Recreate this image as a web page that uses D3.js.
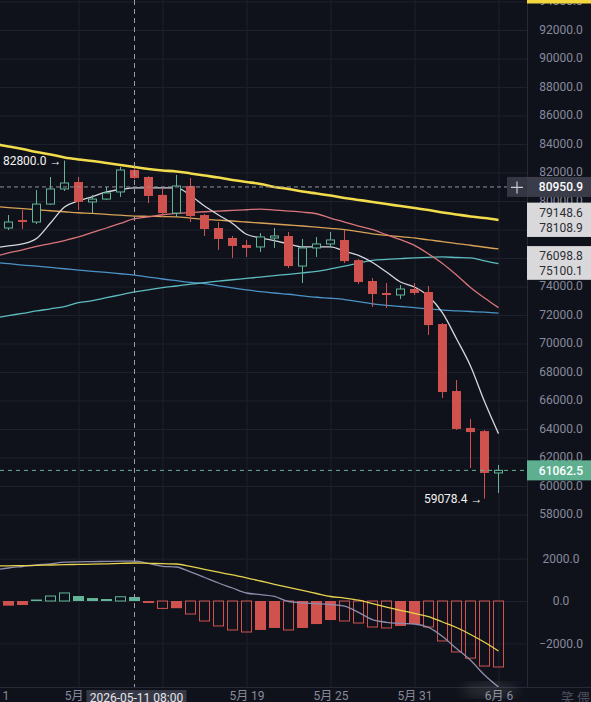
<!DOCTYPE html>
<html>
<head>
<meta charset="utf-8">
<script src="https://cdn.jsdelivr.net/npm/d3@7/dist/d3.min.js"></script>
<style>
  html, body { margin: 0; padding: 0; background: #10121b; overflow: hidden; }
  svg { display: block; font-family: Roboto, "Noto Sans", sans-serif; }
</style>
</head>
<body>
<div id="chart"></div>
<script>
// daily candles, 05-01 .. 06-06 (05-01 sits just off the left edge)
var dates = ["2026-05-01","2026-05-02","2026-05-03","2026-05-04","2026-05-05","2026-05-06","2026-05-07","2026-05-08","2026-05-09","2026-05-10",
  "2026-05-11","2026-05-12","2026-05-13","2026-05-14","2026-05-15","2026-05-16","2026-05-17","2026-05-18","2026-05-19","2026-05-20",
  "2026-05-21","2026-05-22","2026-05-23","2026-05-24","2026-05-25","2026-05-26","2026-05-27","2026-05-28","2026-05-29","2026-05-30",
  "2026-05-31","2026-06-01","2026-06-02","2026-06-03","2026-06-04","2026-06-05","2026-06-06"];

var open  = [78300,78070,78630,78490,79750,80810,81300,79900,80100,80600,82140,81650,80390,79120,81020,78980,78070,77370,76880,76740,
  77370,77510,75400,76670,76950,77230,75820,74350,73510,73370,73790,73580,71330,66630,64040,63820,60880];
var high  = [78800,78980,79330,80740,81650,82800,81650,80390,80950,82350,82280,81700,80880,81790,81580,79050,78490,77510,77230,77720,
  78070,77790,77300,77440,77790,77930,75890,74560,74210,74070,74210,74000,71400,67400,64670,63900,61440];
var low   = [77700,77930,78000,78350,79700,80670,79330,79120,80030,80250,81520,79820,78840,78840,78490,77510,76530,75970,76040,76390,
  76670,75260,74210,76040,76740,75610,74140,72530,72460,73090,73370,70560,66140,63900,61230,59078.4,59470];
var close = [78070,78490,78490,79750,80810,81230,79900,80100,80530,82140,81580,80320,79120,81020,78910,78000,77300,76810,76670,77440,
  77510,75400,76670,76950,77230,75750,74280,73440,73370,73790,73510,71260,66560,63970,63750,60880,61062.5];

// moving averages
var maYellow = [83970,83790,83610,83400,83230,83020,82880,82770,82630,82490,82350,82210,82110,82040,81900,81750,81610,81440,81300,81160,
  80950,80810,80630,80490,80350,80180,80040,79900,79750,79610,79470,79330,79160,79020,78880,78770,78630];
var maOrange = [79580,79500,79430,79350,79280,79210,79140,79090,79020,78970,78910,78890,78870,78850,78770,78680,78620,78560,78490,78420,
  78350,78280,78210,78130,78050,77960,77810,77660,77550,77470,77370,77230,77120,76980,76860,76720,76600];
var maPink   = [76070,76320,76530,76780,76980,77190,77440,77760,78070,78400,78720,78860,79000,79090,79150,79210,79260,79300,79350,79400,
  79330,79260,79180,79070,78770,78490,78210,77950,77600,77250,76850,76250,75580,74770,73900,73160,72480];
var maWhite  = [76670,76810,76950,77330,78420,79540,79970,80280,80600,80770,80880,80880,80880,80880,80350,79610,78980,78390,77630,77370,
  77180,76950,76740,76740,76740,76440,76150,75650,74980,74280,73930,73280,72110,70300,68390,65890,63640];
var maTeal   = [71750,71920,72080,72250,72400,72560,72830,72970,73180,73380,73590,73730,73880,74000,74130,74240,74340,74440,74530,74630,
  74730,74820,74920,75030,75200,75390,75610,75800,75870,75920,75970,76010,76040,76000,75970,75760,75570];
var maBlue   = [75650,75570,75470,75390,75300,75210,75120,75030,74950,74860,74770,74630,74490,74370,74250,74170,74010,73870,73730,73610,
  73510,73420,73310,73210,73140,73050,72900,72750,72640,72560,72480,72390,72310,72260,72210,72160,72100];

// MACD
var macdHist = [-250,-220,-190,70,235,380,235,140,95,200,190,-95,-350,-340,-615,-945,-1180,-1370,-1465,-1370,
  -1275,-1370,-1275,-1090,-900,-945,-1040,-1230,-1275,-1180,-1090,-1230,-1890,-2410,-2700,-3075,-3120];
var macdDif  = [1466,1561,1632,1703,1760,1835,1854,1864,1873,1883,1883,1774,1641,1608,1372,1112,851,615,378,303,
  218,-24,-85,-123,-166,-237,-534,-880,-1007,-1060,-1088,-1249,-1679,-2247,-2805,-3500,-4068];
var macdDea  = [1651,1665,1674,1689,1703,1717,1731,1741,1760,1778,1797,1783,1764,1750,1632,1495,1362,1230,1097,946,
  790,639,497,355,213,137,38,-123,-284,-440,-586,-738,-993,-1253,-1584,-1953,-2365];

// axes
var priceTicks = [58000,60000,62000,64000,66000,68000,70000,72000,74000,76000,78000,80000,82000,84000,86000,88000,90000,92000,94000];
var macdTicks = [2000, 0, -2000];
var dateTicks = ["2026-05-01","2026-05-07","2026-05-13","2026-05-19","2026-05-25","2026-05-31","2026-06-06"];
var dateTickLabels = ["5月 1","5月 7","5月 13","5月 19","5月 25","5月 31","6月 6"];

// tags
var crossDate = "2026-05-11", crossDateLabel = "2026-05-11 08:00";
var crossPrice = 80950.9;
var lastPrice = 61062.5;
var levelTags = [[79148.6, 78108.9], [76098.8, 75100.1]];
var highNote = {date: "2026-05-06", value: 82800.0};
var lowNote = {date: "2026-06-05", value: 59078.4};
var watermark = "笑 偎";

var W = 591, H = 702, plotR = 527, plotB = 687, priceB = 545;
var BG = "#10121b", GRID = "#1d202d", TXT = "#878a9c";
var UP = "#62b596", DOWN = "#d0524f";

var parse = d3.utcParse("%Y-%m-%d");
var days = dates.map(parse);

var x = d3.scaleUtc()
  .domain([parse("2026-05-01"), parse("2026-06-06")])
  .range([-5.5, 498.5]);
var y = d3.scaleLinear().domain([58000, 94000]).range([514, 1]);
var ym = d3.scaleLinear().domain([-2000, 2000]).range([643.3, 558.7]);

var svg = d3.select("#chart").append("svg")
  .attr("width", W).attr("height", H);

svg.append("rect").attr("width", W).attr("height", H).attr("fill", BG);

var defs = svg.append("defs");
defs.append("clipPath").attr("id", "clipP").append("rect")
  .attr("x", 0).attr("y", 0).attr("width", plotR).attr("height", priceB);
defs.append("clipPath").attr("id", "clipM").append("rect")
  .attr("x", 0).attr("y", priceB).attr("width", plotR).attr("height", plotB - priceB);
defs.append("filter").attr("id", "blur").append("feGaussianBlur").attr("stdDeviation", 6);

// grid
var gy = svg.append("g").attr("transform", "translate(0,0)")
  .call(d3.axisRight(y).tickValues(priceTicks).tickSize(plotR).tickFormat(""));
gy.select(".domain").remove();
gy.selectAll("line").attr("stroke", GRID).attr("transform", "translate(0,0.5)");

var gm = svg.append("g")
  .call(d3.axisRight(ym).tickValues(macdTicks).tickSize(plotR).tickFormat(""));
gm.select(".domain").remove();
gm.selectAll("line").attr("stroke", GRID);

var gx = svg.append("g")
  .call(d3.axisBottom(x).tickValues(dateTicks.map(parse)).tickSize(plotB).tickFormat(""));
gx.select(".domain").remove();
gx.selectAll("line").attr("stroke", GRID);

svg.append("line").attr("x1", 0).attr("x2", W).attr("y1", plotB + 0.5).attr("y2", plotB + 0.5).attr("stroke", "#262938");
svg.append("line").attr("x1", plotR + 0.5).attr("x2", plotR + 0.5).attr("y1", 0).attr("y2", plotB).attr("stroke", "#262938");

// price panel
var pp = svg.append("g").attr("clip-path", "url(#clipP)");

function maLine(vals, color, w) {
  var line = d3.line()
    .x(function(d, i) { return x(days[i]); })
    .y(function(d) { return y(d); })
    .curve(d3.curveMonotoneX);
  pp.append("path").datum(vals)
    .attr("d", line).attr("fill", "none")
    .attr("stroke", color).attr("stroke-width", w);
}
maLine(maBlue, "#4b93c6", 1.3);
maLine(maTeal, "#5cbcbf", 1.3);
maLine(maOrange, "#d9a155", 1.3);
maLine(maPink, "#d9757a", 1.3);
maLine(maWhite, "#d6d6de", 1.3);
maLine(maYellow, "#f2dc4c", 2.6);

var candles = dates.map(function(d, i) {
  return {day: days[i], o: open[i], h: high[i], l: low[i], c: close[i], i: i};
});

var cg = pp.selectAll("g.candle").data(candles).enter().append("g").attr("class", "candle");
cg.each(function(d) {
  var g = d3.select(this);
  var cx = x(d.day);
  var up = d.c >= d.o;
  var col = up ? UP : DOWN;
  var top = y(Math.max(d.o, d.c)), bot = y(Math.min(d.o, d.c));
  var hollow = up; // up candles are drawn hollow
  g.append("line")
    .attr("x1", cx).attr("x2", cx)
    .attr("y1", y(d.h)).attr("y2", hollow ? top : y(d.l))
    .attr("stroke", col);
  if (hollow) {
    g.append("line")
      .attr("x1", cx).attr("x2", cx)
      .attr("y1", bot).attr("y2", y(d.l))
      .attr("stroke", col);
  }
  var bx = Math.floor(cx) - 4;
  if (hollow) {
    g.append("rect")
      .attr("x", bx + 0.5).attr("y", top)
      .attr("width", 8).attr("height", Math.max(1, bot - top))
      .attr("fill", BG).attr("stroke", col);
  } else {
    g.append("rect")
      .attr("x", bx).attr("y", top)
      .attr("width", 9).attr("height", Math.max(2, bot - top))
      .attr("fill", col);
  }
});

// last price line
pp.append("line")
  .attr("x1", 0).attr("x2", plotR)
  .attr("y1", y(lastPrice)).attr("y2", y(lastPrice))
  .attr("stroke", UP).attr("stroke-dasharray", "4,4").attr("stroke-width", 1);

// crosshair horizontal
svg.append("line")
  .attr("x1", 0).attr("x2", 507)
  .attr("y1", y(crossPrice)).attr("y2", y(crossPrice))
  .attr("stroke", "#8e909c").attr("stroke-dasharray", "4,3");

// high / low notes
svg.append("text")
  .attr("x", x(parse(highNote.date)) - 3).attr("y", y(highNote.value))
  .attr("dy", "0.35em").attr("text-anchor", "end")
  .attr("fill", "#f2f2f2").attr("font-size", 12)
  .text(highNote.value.toFixed(1) + " →");
svg.append("text")
  .attr("x", x(parse(lowNote.date)) - 2).attr("y", y(lowNote.value))
  .attr("dy", "0.35em").attr("text-anchor", "end")
  .attr("fill", "#f2f2f2").attr("font-size", 12)
  .text(lowNote.value.toFixed(1) + " →");

// MACD panel
var mp = svg.append("g").attr("clip-path", "url(#clipM)");
mp.selectAll("g.bar").data(macdHist).enter().append("g").each(function(v, i) {
  var cx = x(days[i]);
  var prev = i > 0 ? macdHist[i - 1] : v;
  var hollow = Math.abs(v) > Math.abs(prev);
  var col = v >= 0 ? UP : DOWN;
  var y0 = ym(0), y1 = ym(v);
  var top = Math.min(y0, y1), h = Math.abs(y1 - y0);
  var bx = Math.floor(cx) - 5;
  if (hollow) {
    d3.select(this).append("rect")
      .attr("x", bx + 0.5).attr("y", top)
      .attr("width", 10).attr("height", h)
      .attr("fill", "none").attr("stroke", col);
  } else {
    d3.select(this).append("rect")
      .attr("x", bx).attr("y", top)
      .attr("width", 11).attr("height", Math.max(1.5, h))
      .attr("fill", col);
  }
});

function macdLine(vals, color) {
  mp.append("path").datum(vals)
    .attr("d", d3.line()
      .x(function(d, i) { return x(days[i]); })
      .y(function(d) { return ym(d); })
      .curve(d3.curveMonotoneX))
    .attr("fill", "none").attr("stroke", color).attr("stroke-width", 1.3);
}
macdLine(macdDif, "#8f8cab");
macdLine(macdDea, "#e6d24c");

// crosshair vertical
svg.append("line")
  .attr("x1", x(parse(crossDate))).attr("x2", x(parse(crossDate)))
  .attr("y1", 0).attr("y2", plotB)
  .attr("stroke", "#9a9ca8").attr("stroke-dasharray", "5,4");

// price axis labels
var ay = svg.append("g").attr("transform", "translate(" + plotR + ",0)")
  .call(d3.axisRight(y).tickValues(priceTicks).tickSize(0).tickPadding(34)
    .tickFormat(function(d) { return d3.format(".1f")(d); }));
ay.select(".domain").remove();
ay.selectAll("text").attr("fill", TXT).attr("font-size", 12)
  .attr("text-anchor", "middle").attr("font-family", "Roboto, sans-serif");

var am = svg.append("g").attr("transform", "translate(" + plotR + ",0)")
  .call(d3.axisRight(ym).tickValues(macdTicks).tickSize(0).tickPadding(34)
    .tickFormat(function(d) { return d3.format(".1f")(d); }));
am.select(".domain").remove();
am.selectAll("text").attr("fill", TXT).attr("font-size", 12)
  .attr("text-anchor", "middle").attr("font-family", "Roboto, sans-serif");

// yellow tag cut off at the top
svg.append("rect").attr("x", plotR).attr("y", 0).attr("width", W - plotR).attr("height", 3.5).attr("fill", "#f2d83e");

// crosshair price tag + button
var cy = y(crossPrice);
svg.append("rect").attr("x", 507).attr("y", cy - 10).attr("width", 20).attr("height", 20).attr("fill", "#343743");
svg.append("path").attr("d", "M511," + (cy + 0.5) + "H523M517," + (cy - 5.5) + "V" + (cy + 6.5))
  .attr("stroke", "#c9cad0").attr("stroke-width", 1.2);
svg.append("rect").attr("x", plotR).attr("y", cy - 10).attr("width", W - plotR).attr("height", 20).attr("fill", "#3a3d49");
svg.append("text").attr("x", 561).attr("y", cy).attr("dy", "0.36em").attr("text-anchor", "middle")
  .attr("fill", "#ffffff").attr("font-size", 12).attr("font-weight", 500).text(crossPrice.toFixed(1));

// level tags (two stacked values per box)
levelTags.forEach(function(pair) {
  var t = y(pair[0]) - 10, b = y(pair[1]) + 9.5;
  svg.append("rect").attr("x", plotR).attr("y", t).attr("width", W - plotR).attr("height", b - t).attr("fill", "#d9d9db");
  pair.forEach(function(v) {
    svg.append("text").attr("x", 561).attr("y", y(v)).attr("dy", "0.36em").attr("text-anchor", "middle")
      .attr("fill", "#2b2d35").attr("font-size", 12).text(v.toFixed(1));
  });
});

// last price tag
var ly = y(lastPrice);
svg.append("rect").attr("x", plotR).attr("y", ly - 10).attr("width", W - plotR).attr("height", 20).attr("fill", "#5eaf90");
svg.append("text").attr("x", 561).attr("y", ly).attr("dy", "0.36em").attr("text-anchor", "middle")
  .attr("fill", "#ffffff").attr("font-size", 12).attr("font-weight", 500).text(lastPrice.toFixed(1));

// time axis
var ax = svg.append("g").attr("transform", "translate(0," + plotB + ")")
  .call(d3.axisBottom(x).tickValues(dateTicks.map(parse)).tickSize(0).tickPadding(4)
    .tickFormat(function(d, i) { return dateTickLabels[i]; }));
ax.select(".domain").remove();
ax.selectAll("text").attr("fill", TXT).attr("font-size", 12).attr("font-family", "Roboto, 'Noto Sans CJK SC', sans-serif");

// blurred watermark patch near the bottom right
svg.append("ellipse").attr("cx", 490).attr("cy", 690).attr("rx", 28).attr("ry", 7)
  .attr("fill", "#ffffff").attr("opacity", 0.12).attr("filter", "url(#blur)");
svg.append("text").attr("x", 590).attr("y", 702).attr("text-anchor", "end")
  .attr("fill", "#4c4f5e").attr("font-size", 13).attr("font-family", "'Noto Sans CJK SC', sans-serif")
  .text(watermark);

// crosshair date tag
var cxd = x(parse(crossDate));
svg.append("rect").attr("x", cxd - 48).attr("y", 690).attr("width", 100).attr("height", 14).attr("fill", "#363945");
svg.append("text").attr("x", cxd + 2).attr("y", 702).attr("text-anchor", "middle")
  .attr("fill", "#e6e6ea").attr("font-size", 12).text(crossDateLabel);
</script>
</body>
</html>
